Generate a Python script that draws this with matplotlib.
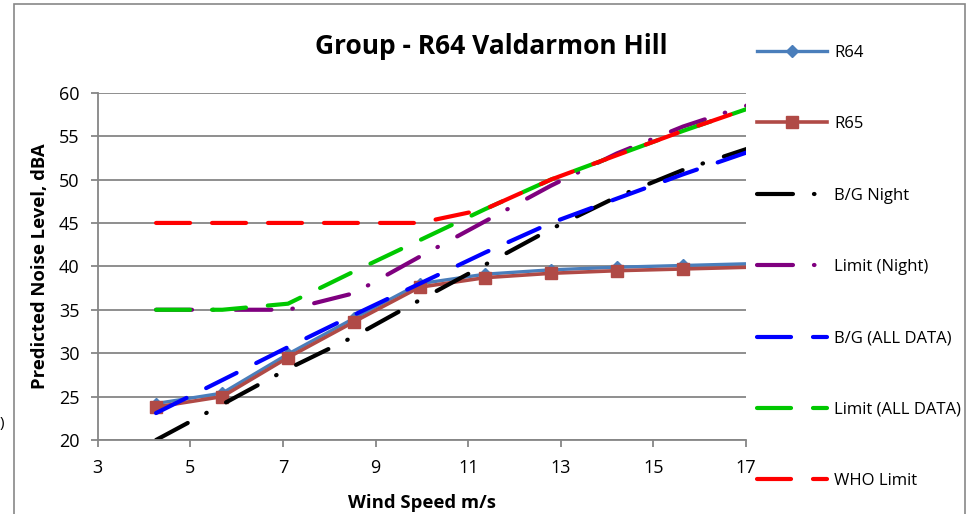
import matplotlib
matplotlib.use("Agg")
import matplotlib.pyplot as plt
from matplotlib.patches import Rectangle

plt.rcParams['font.family'] = ['Open Sans', 'DejaVu Sans']
plt.rcParams['lines.scale_dashes'] = False

# wind speed at 10 m height, m/s
wind = [4.26, 5.69, 7.11, 8.53, 9.95, 11.37, 12.79, 14.21, 15.64, 17.06]

r64 = [24.2, 25.4, 29.9, 34.0, 38.0, 39.1, 39.6, 39.9, 40.1, 40.3]
r65 = [23.8, 25.0, 29.5, 33.6, 37.6, 38.7, 39.2, 39.5, 39.7, 39.9]
bg_night = [20.0, 24.1, 28.2, 31.9, 36.1, 40.2, 44.3, 48.0, 51.1, 53.6]
limit_night = [35.0, 35.0, 35.0, 36.9, 41.1, 45.2, 49.3, 53.0, 56.1, 58.6]
bg_all = [23.1, 26.9, 30.7, 34.4, 38.0, 41.6, 45.0, 47.8, 50.6, 53.2]
limit_all = [35.0, 35.0, 35.7, 39.4, 43.0, 46.6, 50.0, 52.8, 55.6, 58.2]
who_limit = [45.0, 45.0, 45.0, 45.0, 45.0, 46.6, 50.0, 52.8, 55.6, 58.2]

xticks = [3, 5, 7, 9, 11, 13, 15, 17]
yticks = [20, 25, 30, 35, 40, 45, 50, 55, 60]

grid_col = "#868686"
dash_dot = (0, (25.9, 15.1, 0.4, 15.8))
dashed = (0, (24.5, 15.8))

fig = plt.figure(figsize=(9.67, 5.14), dpi=100)
ax = fig.add_axes([97.7 / 967, 1 - 440 / 514, (746 - 97.7) / 967, (440 - 92.7) / 514])

ax.plot(wind, r64, color="#4A7EBB", lw=2.4, marker="D", ms=6.5,
        markevery=slice(0, 9), label="R64")
ax.plot(wind, r65, color="#B04A46", lw=2.6, marker="s", ms=8,
        markevery=slice(0, 9), label="R65")
ax.plot(wind, bg_night, color="black", lw=3, linestyle=dash_dot,
        dash_capstyle="round", label="B/G Night")
ax.plot(wind, limit_night, color="#7F007F", lw=3, linestyle=dash_dot,
        dash_capstyle="round", label="Limit (Night)")
ax.plot(wind, bg_all, color="#0000FF", lw=3, linestyle=dashed,
        dash_capstyle="round", label="B/G (ALL DATA)")
ax.plot(wind, limit_all, color="#00C800", lw=3, linestyle=dashed,
        dash_capstyle="round", label="Limit (ALL DATA)")
ax.plot(wind, who_limit, color="#FF0000", lw=3, linestyle=dashed,
        dash_capstyle="round", label="WHO Limit")

ax.set_xlim(3, 17)
ax.set_ylim(20, 60)
ax.set_xticks(xticks)
ax.set_yticks(yticks)
ax.grid(axis="y", color=grid_col, lw=1.3)
ax.set_axisbelow(True)
for side in ["top", "right"]:
    ax.spines[side].set_visible(False)
for side in ["left", "bottom"]:
    ax.spines[side].set_color(grid_col)
    ax.spines[side].set_linewidth(1.3)
ax.tick_params(axis="both", direction="out", length=5, width=1.3,
               color=grid_col, labelsize=13, labelcolor="black")
ax.tick_params(axis="x", pad=9)
ax.tick_params(axis="y", pad=8)

ax.set_xlabel("Wind Speed m/s", fontsize=13.3, fontweight="bold", labelpad=12)
ax.set_ylabel("Predicted Noise Level, dBA", fontsize=13.3, fontweight="bold", labelpad=7)

fig.text(491 / 967, 1 - 47 / 514, "Group - R64 Valdarmon Hill",
         fontsize=19, fontweight="bold", ha="center", va="center")

leg = fig.legend(loc="upper left", bbox_to_anchor=(757 / 967, 1 - 45 / 514),
                 frameon=False, fontsize=12, handlelength=4.2,
                 handletextpad=0.42, labelspacing=3.32, numpoints=1,
                 borderaxespad=0, borderpad=0)

# chart area border
fig.patches.append(Rectangle((14 / 967, -0.1), 951 / 967, 1.1 - 4 / 514,
                             transform=fig.transFigure, fill=False,
                             edgecolor="#878787", lw=1.2))
fig.text(0.0, 1 - 424 / 514, ")", fontsize=11, ha="left", va="center")

fig.savefig("out.png", dpi=100)
